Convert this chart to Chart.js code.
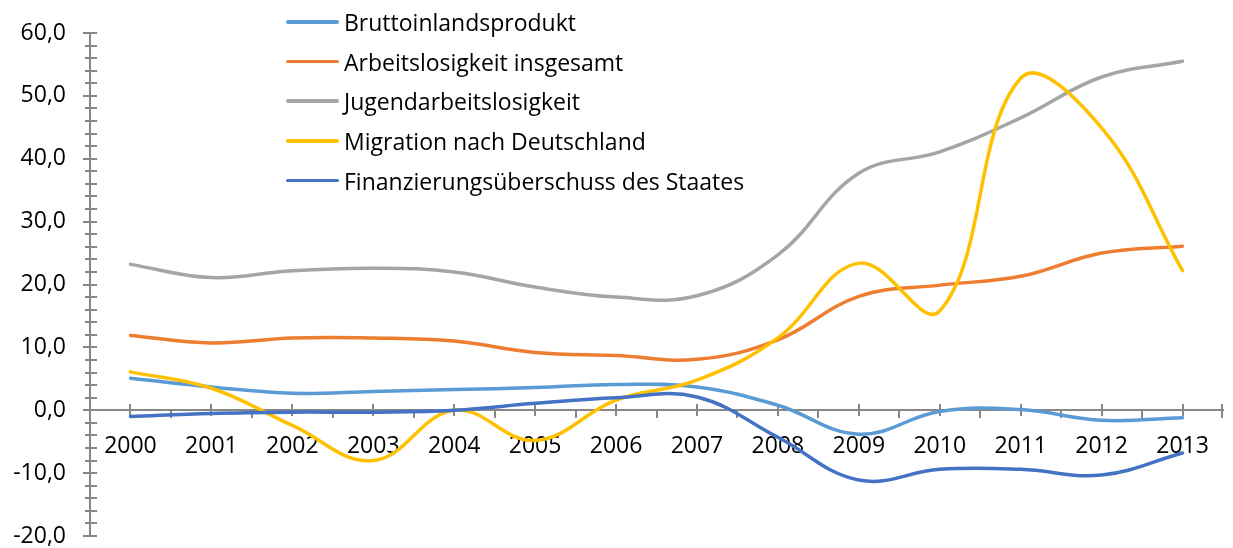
<!DOCTYPE html>
<html><head><meta charset="utf-8">
<script src="https://cdn.jsdelivr.net/npm/chart.js@4/dist/chart.umd.min.js"></script>
<style>
html,body{margin:0;padding:0;background:#fff;}
#wrap{position:relative;width:1233px;height:548px;}
canvas{display:block}
#legend{position:absolute;left:286px;top:2px;font-family:'Open Sans',sans-serif;font-size:23px;color:#000;}
.row{display:flex;align-items:center;height:39.7px;white-space:nowrap}
.sw{width:53px;height:3.5px;margin-right:5px;border-radius:2px}
</style></head><body>
<div id="wrap"><canvas id="c" width="1233" height="548"></canvas><div id="legend"></div></div>
<script>
const years = ['2000','2001','2002','2003','2004','2005','2006','2007','2008','2009','2010','2011','2012','2013'];
const seriesNames = ['Bruttoinlandsprodukt','Arbeitslosigkeit insgesamt','Jugendarbeitslosigkeit','Migration nach Deutschland','Finanzierungsüberschuss des Staates'];
const bip       = [5.1, 3.7, 2.7, 3.0, 3.3, 3.6, 4.1, 3.7, 0.8, -3.8, -0.2, 0.1, -1.6, -1.2];
const alo       = [11.9, 10.7, 11.5, 11.5, 11.0, 9.2, 8.7, 8.1, 11.2, 18.1, 19.9, 21.3, 25.0, 26.1];
const jugend    = [23.2, 21.1, 22.2, 22.6, 22.0, 19.6, 18.0, 18.2, 24.7, 37.7, 41.1, 46.5, 53.0, 55.5];
const migration = [6.1, 3.5, -2.4, -8.0, 0.0, -4.8, 1.6, 4.8, 11.5, 23.4, 15.8, 52.8, 44.9, 22.2];
const finanz    = [-1.0, -0.5, -0.3, -0.3, 0.0, 1.1, 2.0, 2.1, -4.3, -11.1, -9.4, -9.4, -10.3, -6.8];
const yMin = -20, yMax = 60, yMajor = 10, yMinor = 2;
const colors = ['#5B9BD5','#ED7D31','#A5A5A5','#FFC000','#4472C4'];
const allSeries = [bip, alo, jugend, migration, finanz];

const axisColor = '#878787';
const xFont = {family: "'Open Sans', sans-serif", size: 23};
const yFont = {family: "'Open Sans', sans-serif", size: 23, lineHeight: 1};

const axisTicks = {
  id: 'axisTicks',
  beforeDatasetsDraw(chart) {
    const {ctx, chartArea, scales: {x, y}} = chart;
    ctx.save();
    ctx.strokeStyle = axisColor;
    ctx.lineWidth = 2;
    ctx.beginPath();
    const lx = chartArea.left;
    for (let v = yMin; v <= yMax; v += yMinor) {
      const py = Math.round(y.getPixelForValue(v));
      const major = v % yMajor === 0;
      ctx.moveTo(lx - (major ? 7 : 5), py);
      ctx.lineTo(lx + 7, py);
    }
    const p0 = Math.round(y.getPixelForValue(0));
    const n = years.length;
    for (let i = 0; i < n; i++) {
      const px = Math.round(x.getPixelForValue(i));
      ctx.moveTo(px, p0 - 6); ctx.lineTo(px, p0 + 6);
      if (i < n - 1) {
        const bx = Math.round((x.getPixelForValue(i) + x.getPixelForValue(i + 1)) / 2);
        ctx.moveTo(bx, p0); ctx.lineTo(bx, p0 + 8);
      }
    }
    const rx = Math.round(chartArea.right) - 1;
    ctx.moveTo(rx, p0 - 6); ctx.lineTo(rx, p0 + 8);
    ctx.stroke();
    ctx.restore();
  }
};

const legend = document.getElementById('legend');
seriesNames.forEach((name, i) => {
  const row = document.createElement('div'); row.className = 'row';
  const sw = document.createElement('div'); sw.className = 'sw'; sw.style.background = colors[i];
  const t = document.createElement('span'); t.textContent = name;
  row.appendChild(sw); row.appendChild(t); legend.appendChild(row);
});

new Chart(document.getElementById('c'), {
  type: 'line',
  data: {
    labels: years,
    datasets: allSeries.map((d, i) => ({
      label: seriesNames[i],
      data: d,
      borderColor: colors[i],
      backgroundColor: colors[i],
      borderWidth: 3.5,
      pointRadius: 0,
      tension: 0.4,
      fill: false,
      order: allSeries.length - i,
      borderCapStyle: 'round'
    }))
  },
  options: {
    responsive: false,
    animation: false,
    devicePixelRatio: 1,
    layout: {padding: {left: 0, right: 10, top: 33, bottom: 12}},
    plugins: {legend: {display: false}, tooltip: {enabled: false}},
    scales: {
      x: {
        type: 'category',
        position: {y: 0},
        offset: true,
        afterFit(s) { s.height = 0; },
        grid: {display: false, drawTicks: true, tickLength: 22},
        border: {display: true, color: axisColor, width: 2},
        ticks: {padding: 0, font: xFont, color: '#000', maxRotation: 0, autoSkip: false}
      },
      y: {
        min: yMin, max: yMax,
        afterFit(s) { s.width = 90; },
        grid: {display: false, drawTicks: true, tickLength: 24},
        border: {display: true, color: axisColor, width: 2},
        ticks: {stepSize: yMajor, padding: 0, font: yFont, color: '#000',
          callback: v => v.toFixed(1).replace('.', ',')}
      }
    }
  },
  plugins: [axisTicks]
});
</script>
</body></html>
